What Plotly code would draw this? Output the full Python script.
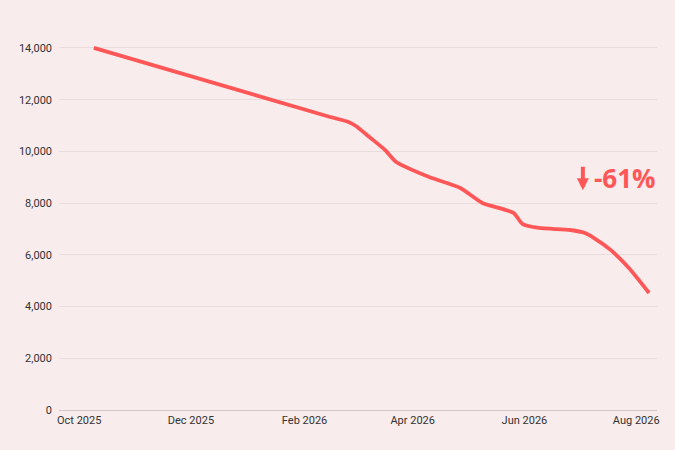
import plotly.graph_objects as go

# Data
dates = [
    "2025-10-09", "2026-02-15", "2026-02-25", "2026-03-01", "2026-03-09",
    "2026-03-17", "2026-03-23", "2026-04-10", "2026-04-27", "2026-05-09",
    "2026-05-26", "2026-05-31", "2026-06-09", "2026-06-26", "2026-07-04",
    "2026-07-09", "2026-07-18", "2026-07-28", "2026-08-08",
]
values = [
    14000, 11330, 11140, 10980, 10520,
    10050, 9590, 9010, 8585, 8005,
    7620, 7190, 7040, 6960, 6845,
    6650, 6190, 5490, 4525,
]
change_label = "-61%"

line_color = "#FF5757"
bg_color = "#F8ECEC"

fig = go.Figure()

fig.add_trace(go.Scatter(
    x=dates,
    y=values,
    mode="lines",
    line=dict(color=line_color, width=3.8, shape="spline", smoothing=0.6),
    hoverinfo="skip",
    showlegend=False,
))

# percentage label
fig.add_annotation(
    x=1.002, xref="paper",
    y=8970, yref="y",
    xanchor="right", yanchor="middle",
    text="<b>" + change_label + "</b>",
    showarrow=False,
    font=dict(family="Open Sans", size=26, color=line_color),
)

# down arrow next to the label
fig.add_annotation(
    x=0.876, xref="paper",
    y=8500, yref="y",
    ax=0, ay=-25,
    text="",
    showarrow=True,
    arrowhead=2,
    arrowsize=0.6,
    arrowwidth=4,
    arrowcolor=line_color,
)

fig.update_layout(
    width=675,
    height=450,
    paper_bgcolor=bg_color,
    plot_bgcolor=bg_color,
    margin=dict(l=59, r=18, t=35, b=40),
    font=dict(family="Roboto", size=11, color="#333333"),
    xaxis=dict(
        type="date",
        range=["2025-09-20", "2026-08-12 08:00"],
        tick0="2025-10-01",
        dtick="M2",
        tickformat="%b %Y",
        showgrid=False,
        showline=False,
        zeroline=False,
        ticks="",
        ticklabelstandoff=2,
    ),
    yaxis=dict(
        range=[0, 14500],
        tickvals=[0, 2000, 4000, 6000, 8000, 10000, 12000, 14000],
        tickformat=",",
        showgrid=True,
        gridcolor="#EADCDC",
        gridwidth=1,
        zeroline=True,
        zerolinecolor="#D6C8C8",
        zerolinewidth=1,
        showline=False,
        ticks="",
        ticklabelstandoff=6,
    ),
)

fig.write_html("out.html", config={"displayModeBar": False},
               post_script="document.body.style.margin='0';")
